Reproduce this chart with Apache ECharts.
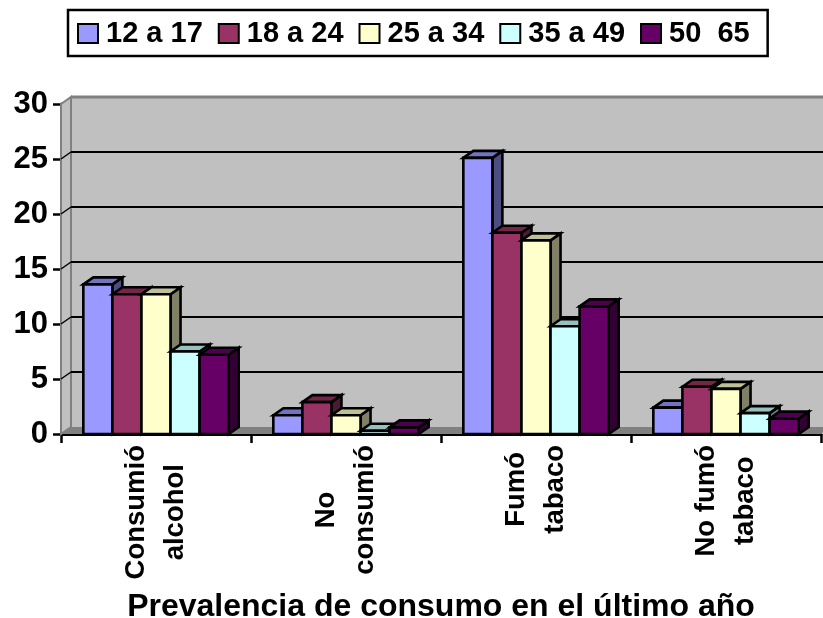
<!DOCTYPE html>
<html><head><meta charset="utf-8">
<style>html,body{margin:0;padding:0;background:#fff}#c{width:823px;height:618px}</style>
<script src="https://cdn.jsdelivr.net/npm/echarts@6/dist/echarts.min.js"></script>
</head><body><div id="c"></div>
<script>
const categories = ['Consumió\nalcohol', 'No\nconsumió', 'Fumó\ntabaco', 'No fumó\ntabaco'];
const seriesNames = ['12 a 17', '18 a 24', '25 a 34', '35 a 49', '50  65'];
const colors = ['#9999FF', '#993366', '#FFFFCC', '#CCFFFF', '#660066'];
const topColors = ['#7373BF', '#732648', '#BFBF99', '#99BFBF', '#4D004D'];
const sideColors = ['#4D4D80', '#4D1A33', '#808066', '#668080', '#330033'];
const v1217 = [13.6, 1.7, 25.1, 2.4];
const v1824 = [12.7, 2.9, 18.3, 4.3];
const v2534 = [12.7, 1.7, 17.6, 4.1];
const v3549 = [7.5, 0.3, 9.8, 1.9];
const v5065 = [7.2, 0.6, 11.6, 1.4];
const allValues = [v1217, v1824, v2534, v3549, v5065];
const yTicks = [0, 5, 10, 15, 20, 25, 30];
const DX = 10, DY = -7;
const chart = echarts.init(document.getElementById('c'));

function wall(params, api) {
  const t = api.value(0);
  const bandW = api.size([1, 0])[0];
  const L = api.coord([0, t])[0] - bandW / 2;
  const R = L + bandW * 4;
  const y = api.coord([0, t])[1];
  const children = [];
  if (t === 0) {
    const yt = api.coord([0, 30])[1];
    children.push({type:'polygon',shape:{points:[[L+DX,yt+DY],[R+DX,yt+DY],[R+DX,y+DY],[L+DX,y+DY]]},style:{fill:'#C0C0C0'}});
    children.push({type:'polygon',shape:{points:[[L,yt],[L+DX,yt+DY],[L+DX,y+DY],[L,y]]},style:{fill:'#C0C0C0',stroke:'#808080',lineWidth:2}});
    children.push({type:'polygon',shape:{points:[[L,y],[L+DX,y+DY],[R+DX,y+DY],[R,y]]},style:{fill:'#808080'}});
    children.push({type:'line',shape:{x1:L+DX,y1:yt+DY,x2:R+DX,y2:yt+DY},style:{stroke:'#808080',lineWidth:3}});
  } else if (t < 30) {
    children.push({type:'line',shape:{x1:L+DX,y1:y+DY,x2:R+DX,y2:y+DY},style:{stroke:'#000',lineWidth:2}});
    children.push({type:'line',shape:{x1:L,y1:y,x2:L+DX,y2:y+DY},style:{stroke:'#000',lineWidth:1.5}});
  }
  return {type:'group',children};
}

function bar3d(si) {
  return function (params, api) {
    const cat = api.value(0), val = api.value(1);
    const bandW = api.size([1, 0])[0];
    const bw = bandW * 0.153;
    const cx = api.coord([cat, 0])[0];
    const x0 = cx - bw * 2.5 + si * bw;
    const x1 = x0 + bw;
    const yb = api.coord([cat, 0])[1];
    const yt = api.coord([cat, val])[1];
    const st = {stroke:'#000',lineWidth:2.6,lineJoin:'miter'};
    return {type:'group',children:[
      {type:'polygon',shape:{points:[[x1,yt],[x1+DX,yt+DY],[x1+DX,yb+DY],[x1,yb]]},style:Object.assign({fill:sideColors[si]},st)},
      {type:'polygon',shape:{points:[[x0,yt],[x0+DX,yt+DY],[x1+DX,yt+DY],[x1,yt]]},style:Object.assign({fill:topColors[si]},st)},
      {type:'rect',shape:{x:x0,y:yt,width:bw,height:yb-yt},style:Object.assign({fill:colors[si]},st)}
    ]};
  };
}

const series = [{
  type:'custom', name:'wall', silent:true, clip:false, z:1,
  data: yTicks.map(t => [t]), encode:{y:0}, renderItem: wall
}].concat(seriesNames.map((n, si) => ({
  type:'custom', name:n, z:2+si, clip:false,
  itemStyle:{color:colors[si],borderColor:'#000',borderWidth:2.5},
  data: allValues[si].map((v, i) => [i, v]),
  encode:{x:0,y:1},
  renderItem: bar3d(si)
})));

chart.setOption({
  animation:false,
  backgroundColor:'#fff',
  textStyle:{fontFamily:'Liberation Sans'},
  legend:{
    data:seriesNames.map(n => ({name:n,icon:'rect'})),
    left:68, top:10,
    padding:[9,18,8,9],
    itemGap:15, itemWidth:20, itemHeight:19,
    borderColor:'#000', borderWidth:2.5, backgroundColor:'#fff',
    selectedMode:false,
    textStyle:{fontFamily:'Liberation Sans',fontWeight:'bold',fontSize:29,color:'#000',padding:[0,0,0,3]}
  },
  grid:{left:61,right:2,top:104,bottom:184,outerBoundsMode:'none'},
  xAxis:{
    type:'category', data:categories,
    axisLine:{show:true,lineStyle:{color:'#000',width:3}},
    axisTick:{show:true,alignWithLabel:false,length:9,lineStyle:{color:'#000',width:2.5}},
    axisLabel:{rotate:90,interval:0,margin:11,
      formatter:v => v.split('\n').map(l => '{c|' + l + '}').join('\n'),
      rich:{c:{align:'center',fontFamily:'Liberation Sans',fontWeight:'bold',fontSize:27.5,color:'#000',lineHeight:39}}
    },
    name:'Prevalencia de consumo en el último año',
    nameLocation:'middle', nameGap:157,
    nameTextStyle:{fontFamily:'Liberation Sans',fontWeight:'bold',fontSize:32,color:'#000'}
  },
  yAxis:{
    type:'value', min:0, max:30, interval:5,
    splitLine:{show:false},
    axisLine:{show:true,lineStyle:{color:'#000',width:3}},
    axisTick:{show:true,length:8,lineStyle:{color:'#000',width:2.5}},
    axisLabel:{fontFamily:'Liberation Sans',fontWeight:'bold',fontSize:31,color:'#000',margin:13}
  },
  series
});
</script></body></html>
